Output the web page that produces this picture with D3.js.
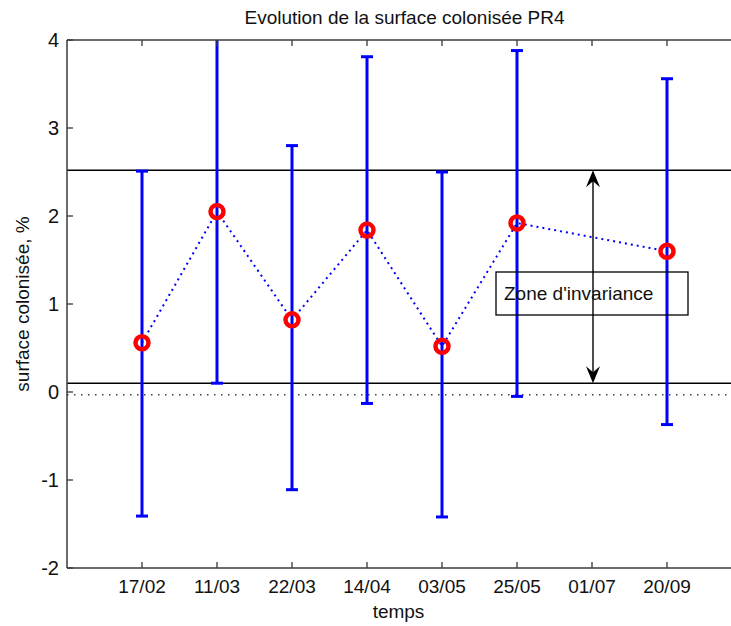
<!DOCTYPE html>
<html>
<head>
<meta charset="utf-8">
<script src="https://cdn.jsdelivr.net/npm/d3@7"></script>
<style>
  html, body { margin: 0; padding: 0; background: #fff; }
  svg text { font-family: "Liberation Sans", Arial, sans-serif; }
</style>
</head>
<body>
<script>
// ---- Data ----
const dates = ["17/02", "11/03", "22/03", "14/04", "03/05", "25/05", "01/07", "20/09"];
const meanValues = [0.56, 2.05, 0.82, 1.84, 0.52, 1.92, null, 1.60];
const lowerValues = [-1.41, 0.10, -1.11, -0.13, -1.42, -0.05, null, -0.37];
const upperValues = [2.51, 4.02, 2.80, 3.81, 2.50, 3.88, null, 3.56];
const yTicks = [-2, -1, 0, 1, 2, 3, 4];
const zoneLimits = [2.52, 0.10];
const baselineValue = -0.03;
const titleText = "Evolution de la surface colonisée PR4";
const xLabel = "temps";
const yLabel = "surface colonisée, %";
const annotationText = "Zone d'invariance";

(function () {
const W = 731, H = 626;
const pLeft = 67, pRight = 742, pTop = 40, pBottom = 568;

const svg = d3.select("body").append("svg").attr("width", W).attr("height", H);

const x = d3.scaleLinear().domain([0, dates.length + 1]).range([pLeft, pRight]);
const y = d3.scaleLinear().domain([-2, 4]).range([pBottom, pTop]);

svg.append("defs").append("clipPath").attr("id", "plotclip")
  .append("rect").attr("x", pLeft).attr("y", pTop).attr("width", pRight - pLeft).attr("height", pBottom - pTop);

const plot = svg.append("g").attr("clip-path", "url(#plotclip)");

// Zone lines
plot.selectAll(".zone").data(zoneLimits).enter().append("line")
  .attr("x1", pLeft).attr("x2", pRight)
  .attr("y1", d => y(d)).attr("y2", d => y(d))
  .attr("stroke", "#000").attr("stroke-width", 1.5);

// baseline dotted
plot.append("line")
  .attr("x1", pLeft).attr("x2", pRight)
  .attr("y1", y(baselineValue)).attr("y2", y(baselineValue))
  .attr("stroke", "#444").attr("stroke-width", 1.5).attr("stroke-dasharray", "1.5,5.5");

const data = dates.map((d, i) => ({date: d, i: i + 1, v: meanValues[i], lo: lowerValues[i], hi: upperValues[i]}))
  .filter(d => d.v !== null);

// error bars
const eb = plot.selectAll(".eb").data(data).enter().append("g");
eb.append("line")
  .attr("x1", d => x(d.i)).attr("x2", d => x(d.i))
  .attr("y1", d => y(d.lo)).attr("y2", d => y(d.hi))
  .attr("stroke", "#0000ff").attr("stroke-width", 3);
eb.append("line")
  .attr("x1", d => x(d.i) - 6).attr("x2", d => x(d.i) + 6)
  .attr("y1", d => y(d.lo)).attr("y2", d => y(d.lo))
  .attr("stroke", "#0000ff").attr("stroke-width", 3);
eb.append("line")
  .attr("x1", d => x(d.i) - 6).attr("x2", d => x(d.i) + 6)
  .attr("y1", d => y(d.hi)).attr("y2", d => y(d.hi))
  .attr("stroke", "#0000ff").attr("stroke-width", 3);

// dotted connecting line
const line = d3.line().x(d => x(d.i)).y(d => y(d.v));
plot.append("path").datum(data).attr("d", line)
  .attr("fill", "none").attr("stroke", "#0000ff").attr("stroke-width", 2)
  .attr("stroke-dasharray", "2,4");

// markers
plot.selectAll(".mk").data(data).enter().append("circle")
  .attr("cx", d => x(d.i)).attr("cy", d => y(d.v)).attr("r", 6.5)
  .attr("fill", "none").attr("stroke", "#ff0000").attr("stroke-width", 4.5);

// axes box lines
const axisColor = "#3a3a3a";
svg.append("line").attr("x1", pLeft).attr("x2", pRight).attr("y1", pTop).attr("y2", pTop)
  .attr("stroke", axisColor).attr("stroke-width", 1.5);
svg.append("line").attr("x1", pLeft).attr("x2", pRight).attr("y1", pBottom).attr("y2", pBottom)
  .attr("stroke", axisColor).attr("stroke-width", 1.5);
svg.append("line").attr("x1", pLeft).attr("x2", pLeft).attr("y1", pTop).attr("y2", pBottom)
  .attr("stroke", axisColor).attr("stroke-width", 1.5);

// x ticks (bottom inward, top inward)
const xt = dates.map((d, i) => ({label: d, i: i + 1}));
svg.selectAll(".xtb").data(xt).enter().append("line")
  .attr("x1", d => x(d.i)).attr("x2", d => x(d.i))
  .attr("y1", pBottom).attr("y2", pBottom - 6)
  .attr("stroke", axisColor).attr("stroke-width", 1.3);
svg.selectAll(".xtt").data(xt).enter().append("line")
  .attr("x1", d => x(d.i)).attr("x2", d => x(d.i))
  .attr("y1", pTop).attr("y2", pTop + 6)
  .attr("stroke", axisColor).attr("stroke-width", 1.3);
svg.selectAll(".xtl").data(xt).enter().append("text")
  .attr("x", d => x(d.i)).attr("y", pBottom + 25)
  .attr("text-anchor", "middle").attr("font-size", 19).attr("fill", "#111")
  .text(d => d.label);

// y ticks
svg.selectAll(".yt").data(yTicks).enter().append("line")
  .attr("x1", pLeft).attr("x2", pLeft + 6)
  .attr("y1", d => y(d)).attr("y2", d => y(d))
  .attr("stroke", axisColor).attr("stroke-width", 1.3);
svg.selectAll(".ytl").data(yTicks).enter().append("text")
  .attr("x", pLeft - 8).attr("y", d => y(d)).attr("dy", "0.35em")
  .attr("text-anchor", "end").attr("font-size", 20).attr("fill", "#111")
  .text(d => d);

// title & labels
svg.append("text").attr("x", (pLeft + pRight) / 2).attr("y", 24)
  .attr("text-anchor", "middle").attr("font-size", 19).attr("fill", "#111").text(titleText);
svg.append("text").attr("x", (pLeft + pRight) / 2 - 6).attr("y", 618)
  .attr("text-anchor", "middle").attr("font-size", 19).attr("fill", "#111").text(xLabel);
svg.append("text").attr("transform", `translate(29, ${(pTop + pBottom) / 2}) rotate(-90)`)
  .attr("text-anchor", "middle").attr("font-size", 19).attr("fill", "#111").text(yLabel);

// double arrow annotation
const ax = 593, ay1 = y(zoneLimits[0]), ay2 = y(zoneLimits[1]);
svg.append("line").attr("x1", ax).attr("x2", ax).attr("y1", ay1 + 6).attr("y2", ay2 - 6)
  .attr("stroke", "#000").attr("stroke-width", 1.4);
const head = (tipY, dir) => {
  const L = 17, hw = 7, back = 11;
  return `M${ax},${tipY} L${ax - hw},${tipY + dir * L} L${ax},${tipY + dir * back} L${ax + hw},${tipY + dir * L} Z`;
};
svg.append("path").attr("d", head(ay1, 1)).attr("fill", "#000");
svg.append("path").attr("d", head(ay2, -1)).attr("fill", "#000");

// text box
svg.append("rect").attr("x", 496).attr("y", 272).attr("width", 192).attr("height", 43)
  .attr("fill", "none").attr("stroke", "#000").attr("stroke-width", 1.3);
svg.append("text").attr("x", 504).attr("y", 300).attr("font-size", 19).attr("fill", "#111")
  .text(annotationText);
})();
</script>
</body>
</html>
